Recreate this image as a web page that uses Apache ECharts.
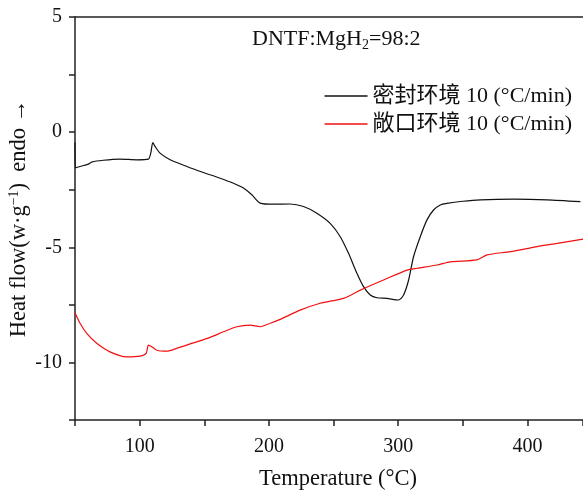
<!DOCTYPE html>
<html>
<head>
<meta charset="utf-8">
<script src="https://cdn.jsdelivr.net/npm/echarts@6/dist/echarts.min.js"></script>
<style>
  html, body { margin: 0; padding: 0; background: #fff; }
  #chart { width: 583px; height: 490px; }
</style>
</head>
<body>
<div id="chart"></div>
<script>
// 密封环境 (black)
const sealedT = [50, 50.3, 53.9, 60.3, 62.9, 71.9, 84.8, 97.8, 106.8, 108.6, 110.2, 111.9, 115.8, 123.6, 136.5, 149.3, 162.3, 172.6, 180.3, 186.8, 193.2, 203.5, 216.5, 226.8, 237.1, 247.4, 255.2, 261.6, 268.1, 273.2, 278.4, 283.6, 291.3, 300.3, 304.2, 308.1, 311.9, 317.1, 322.3, 327.4, 332.6, 337.7, 350, 363.6, 389.4, 415.2, 441]
const sealedHF = [-0.45, -1.55, -1.49, -1.39, -1.3, -1.22, -1.17, -1.2, -1.17, -0.91, -0.45, -0.62, -0.91, -1.2, -1.49, -1.75, -2.0, -2.22, -2.43, -2.72, -3.08, -3.13, -3.12, -3.23, -3.52, -3.96, -4.54, -5.26, -6.13, -6.71, -7.07, -7.19, -7.22, -7.29, -7.07, -6.42, -5.41, -4.54, -3.81, -3.38, -3.16, -3.09, -3.0, -2.94, -2.91, -2.94, -3.02]

// 敞口环境 (red)
const openT = [50, 53.9, 59.1, 66.8, 77.1, 90, 100.3, 105, 106.8, 109.4, 113.3, 121, 128.7, 141.6, 154.5, 164.8, 175.2, 185.5, 193.2, 201, 208.7, 224.2, 239.7, 257.7, 270.7, 288.7, 306.8, 314.6, 330, 340.4, 361, 368.8, 386.8, 407.5, 423, 443.6]
const openHF = [-7.84, -8.3, -8.74, -9.17, -9.54, -9.76, -9.73, -9.61, -9.25, -9.32, -9.47, -9.51, -9.39, -9.15, -8.91, -8.67, -8.45, -8.38, -8.45, -8.3, -8.13, -7.73, -7.43, -7.22, -6.86, -6.42, -5.99, -5.91, -5.77, -5.63, -5.55, -5.33, -5.19, -4.97, -4.83, -4.64]

const seriesNames = ['密封环境 10 (°C/min)', '敞口环境 10 (°C/min)']
const xLabels = [100, 200, 300, 400]
const yLabels = [5, 0, -5, -10]

const pairs = (xs, ys) => xs.map((x, i) => [x, ys[i]])

const serif = 'Liberation Serif, Times New Roman, Noto Sans CJK SC, serif'
const axisColor = '#222'

const chart = echarts.init(document.getElementById('chart'))

const option = {
  animation: false,
  grid: { left: 75, right: 0, top: 17, bottom: 70, containLabel: false, outerBoundsMode: 'none' },
  legend: {
    orient: 'vertical',
    right: 6,
    top: 80,
    icon: 'rect',
    itemWidth: 43,
    itemHeight: 1.3,
    itemGap: 6,
    data: seriesNames,
    textStyle: { fontFamily: serif, fontSize: 22, color: '#111', lineHeight: 22 },
  },
  graphic: [
    {
      type: 'text',
      left: 252,
      top: 28,
      style: {
        text: 'DNTF:MgH{sub|2}=98:2',
        fontFamily: serif,
        fontSize: 22,
        fill: '#111',
        rich: {
          sub: { fontSize: 14, fontFamily: serif, fill: '#111', padding: [13, 0, 0, 0] },
        },
      },
    },
  ],
  xAxis: [
    {
      type: 'value',
      min: 50,
      max: 443,
      interval: 50,
      name: 'Temperature (°C)',
      nameLocation: 'middle',
      nameGap: 48,
      nameMoveOverlap: false,
      nameTextStyle: { fontFamily: serif, fontSize: 22.5, color: '#111', padding: [0, 0, 0, 18] },
      axisLine: { show: true, onZero: false, lineStyle: { color: axisColor, width: 1.5 } },
      axisTick: { show: true, inside: false, length: 6, lineStyle: { color: axisColor, width: 1.5 } },
      axisLabel: {
        fontFamily: serif,
        fontSize: 20,
        color: '#111',
        margin: 17,
        formatter: (v) => (xLabels.includes(v) ? String(v) : ''),
      },
      splitLine: { show: false },
    },
    {
      type: 'value',
      position: 'top',
      min: 50,
      max: 443,
      axisLine: { show: true, onZero: false, lineStyle: { color: axisColor, width: 1.5 } },
      axisTick: { show: false },
      axisLabel: { show: false },
      splitLine: { show: false },
    },
  ],
  yAxis: {
    type: 'value',
    min: -12.5,
    max: 5,
    interval: 2.5,
    name: 'Heat flow(w·g{sup|−1})  endo →',
    nameLocation: 'middle',
    nameRotate: 90,
    nameGap: 43,
    nameMoveOverlap: false,
    nameTextStyle: {
      fontFamily: serif,
      fontSize: 22.5,
      color: '#111',
      rich: {
        sup: { fontSize: 14, fontFamily: serif, color: '#111', padding: [0, 0, 11, 0] },
      },
    },
    axisLine: { show: true, onZero: false, lineStyle: { color: axisColor, width: 1.5 } },
    axisTick: { show: true, inside: false, length: 6, lineStyle: { color: axisColor, width: 1.5 } },
    axisLabel: {
      fontFamily: serif,
      fontSize: 20,
      color: '#111',
      margin: 13,
      formatter: (v) => (yLabels.includes(v) ? String(v) : ''),
    },
    splitLine: { show: false },
  },
  series: [
    {
      name: seriesNames[0],
      type: 'line',
      data: pairs(sealedT, sealedHF),
      symbol: 'none',
      smooth: 0.25,
      lineStyle: { color: '#111', width: 1.2 },
      itemStyle: { color: '#111' },
    },
    {
      name: seriesNames[1],
      type: 'line',
      data: pairs(openT, openHF),
      symbol: 'none',
      smooth: 0.25,
      lineStyle: { color: '#f01010', width: 1.2 },
      itemStyle: { color: '#f01010' },
    },
  ],
}

chart.setOption(option)
</script>
</body>
</html>
